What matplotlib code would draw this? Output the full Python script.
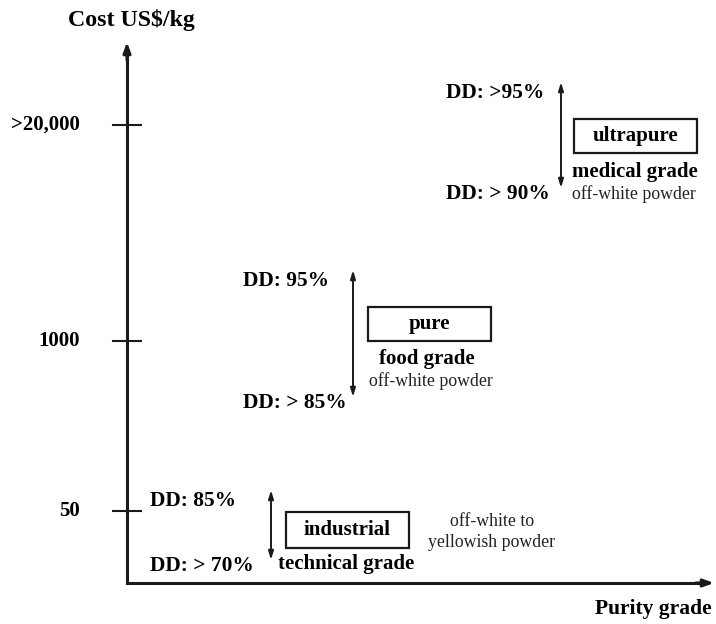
import matplotlib.pyplot as plt
from matplotlib.patches import Rectangle

plt.rcParams['font.family'] = ['Liberation Serif', 'DejaVu Serif']

# data
cost_labels = [">20,000", "1000", "50"]
grades = ["ultrapure", "pure", "industrial"]
grade_use = ["medical grade", "food grade", "technical grade"]
dd_high = ["DD: >95%", "DD: 95%", "DD: 85%"]
dd_low = ["DD: > 90%", "DD: > 85%", "DD: > 70%"]
appearance = ["off-white powder", "off-white powder", "off-white to\nyellowish powder"]

# layout (figure pixels, y downwards)
tick_y = [125, 341, 511]
arrow_x = [561, 353, 271]
arrow_top = [82, 270, 490]
arrow_bot = [188, 397, 560]
dd_x = [446, 243, 150]
box_x = [574, 368, 286]
box_top = [119, 307, 512]
box_h = [34, 34, 36]
use_xy = [(635, 172), (427, 359), (346, 564)]
app_xy = [(634, 194), (431, 381), (492, 532)]

fig = plt.figure(figsize=(7.16, 6.24), dpi=100)
ax = fig.add_axes([0, 0, 1, 1])
ax.set_xlim(0, 716)
ax.set_ylim(624, 0)
ax.axis("off")

x0, y0 = 127, 583
ax.plot([x0, x0, 700], [55, y0, y0], color="#1a1a1a", lw=2.2, solid_joinstyle="miter")
ax.annotate("", xy=(x0, 42), xytext=(x0, 60),
            arrowprops=dict(arrowstyle="-|>,head_length=0.6,head_width=0.22", lw=2.2, color="#1a1a1a",
                            shrinkA=0, shrinkB=0))
ax.annotate("", xy=(714, y0), xytext=(696, y0),
            arrowprops=dict(arrowstyle="-|>,head_length=0.6,head_width=0.22", lw=2.2, color="#1a1a1a",
                            shrinkA=0, shrinkB=0))

ax.text(131, 20, "Cost US$/kg", ha="center", va="center", fontsize=17.2, fontweight="bold")
ax.text(712, 609, "Purity grade", ha="right", va="center", fontsize=15.5, fontweight="bold")

for lab, ty in zip(cost_labels, tick_y):
    ax.plot([113, 141], [ty, ty], color="#1a1a1a", lw=1.5)
    ax.text(80, ty, lab, ha="right", va="center", fontsize=15, fontweight="bold")

for i in range(len(grades)):
    ax.annotate("", xy=(arrow_x[i], arrow_top[i]), xytext=(arrow_x[i], arrow_bot[i]),
                arrowprops=dict(arrowstyle="<|-|>,head_length=0.5,head_width=0.15", lw=1.4,
                                color="#1a1a1a", shrinkA=0, shrinkB=0))
    ax.text(dd_x[i], arrow_top[i] + 11, dd_high[i], ha="left", va="center",
            fontsize=15.4, fontweight="bold")
    ax.text(dd_x[i], arrow_bot[i] + 6, dd_low[i], ha="left", va="center",
            fontsize=15.4, fontweight="bold")
    ax.add_patch(Rectangle((box_x[i], box_top[i]), 123, box_h[i], fill=False,
                           edgecolor="#1a1a1a", lw=1.6))
    ax.text(box_x[i] + 61.5, box_top[i] + box_h[i] / 2, grades[i], ha="center", va="center",
            fontsize=15, fontweight="bold")
    ax.text(use_xy[i][0], use_xy[i][1], grade_use[i], ha="center", va="center",
            fontsize=15, fontweight="bold")
    ax.text(app_xy[i][0], app_xy[i][1], appearance[i], ha="center", va="center",
            fontsize=12.8, linespacing=1.3, color="#222222")

fig.savefig("out.png", dpi=100)
